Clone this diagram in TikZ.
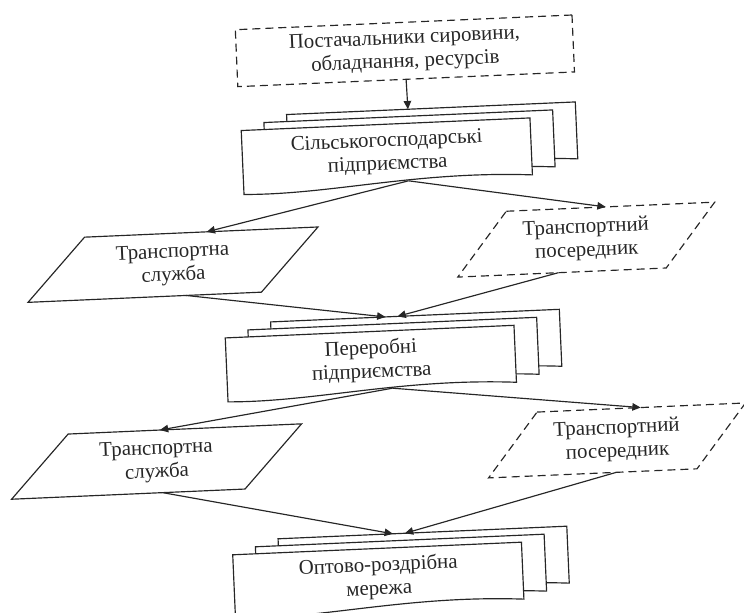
\documentclass[tikz,border=0pt]{standalone}
\usepackage{fontspec}
\setmainfont{Liberation Serif}
\usetikzlibrary{calc,arrows.meta}

\tikzset{
  pages/.pic={
    % three sheets, the back one first
    \foreach \k in {2,1,0}
      \filldraw[sheet, shift={(23*\k,7*\k)}]
        (0,0) -- (289,0) -- (289,-57)
        .. controls (173,-48) and (87,-68) .. (0,-64) -- cycle;
    \coordinate (-in) at (167.5,14);
    \coordinate (-inl) at (161,14);
    \coordinate (-inr) at (173,14);
    \coordinate (-out) at (165,-57.5);
  }
}
% slanted frame round a node, #3 = half the slant as a part of the edge
\newcommand{\slantframe}[3][]{%
  \pgfmathsetmacro{\slantin}{#3}%
  \pgfmathsetmacro{\slantout}{1+#3}%
  \draw[#1] ($(#2.north west)!\slantin!(#2.north east)$)
    -- ($(#2.north west)!\slantout!(#2.north east)$)
    -- ($(#2.south east)!\slantin!(#2.south west)$)
    -- ($(#2.south east)!\slantout!(#2.south west)$) -- cycle;}

\begin{document}
\begin{tikzpicture}[
    %We set the units and define some styles
    x=0.6pt, y=0.6pt,
    every node/.style={color=black!85, font=\fontsize{12.5}{14}\selectfont,
        align=center, inner sep=0pt},
    box line/.style={black!85, line width=0.7pt},
    dashed line/.style={box line, dash pattern=on 4.8pt off 3pt},
    link/.style={box line, -{Triangle[length=5pt,width=4.5pt]}},
    sheet/.style={box line, fill=white},
    supplybox/.style={draw, dashed line, minimum width=202.2pt, minimum height=34.2pt},
    doctext/.style={anchor=north west, minimum width=173.4pt, minimum height=34.8pt},
    service/.style={minimum width=139.8pt, minimum height=37.2pt},
    agent/.style={minimum width=124.8pt, minimum height=37.8pt}
]
\useasboundingbox (0,0) rectangle (744,613);
\begin{scope}[rotate around={2.5:(372,307)}, transform shape]
    % suppliers
    \node[supplybox] (supply) at (416,560.5) {Постачальники сировини,\\обладнання, ресурсів};

    % the stacks of sheets
    \pic (farms) at (249,488) {pages};
    \node[doctext] (farms) at (249,488) {Сільськогосподарські\\підприємства};
    \pic (proc) at (224,281.5) {pages};
    \node[doctext] (proc) at (224,281.5) {Переробні\\підприємства};
    \pic (trade) at (222,64.5) {pages};
    \node[doctext] (trade) at (222,64.5) {Оптово-роздрібна\\мережа};

    % transport
    \node[service] (ts1) at (175,357) {Транспортна\\служба};
    \node[agent] (tm1) at (589,364) {Транспортний\\посередник};
    \node[service] (ts2) at (150,161) {Транспортна\\служба};
    \node[agent] (tm2) at (611,162) {Транспортний\\посередник};
    \slantframe[box line]{ts1}{0.127}
    \slantframe[dashed line]{tm1}{0.123}
    \slantframe[box line]{ts2}{0.127}
    \slantframe[dashed line]{tm2}{0.123}

    % connectors
    \draw[link] (supply.south) -- (farms-in);
    \draw[link] (farms-out) -- ($(ts1.north west)!0.65!(ts1.north east)$);
    \draw[link] (farms-out) -- ($(tm1.north west)!0.6!(tm1.north east)$);
    \draw[link] ($(ts1.south west)!0.55!(ts1.south east)$) -- (proc-inl);
    \draw[link] ($(tm1.south west)!0.36!(tm1.south east)$) -- (proc-inr);
    \draw[link] (proc-out) -- ($(ts2.north west)!0.52!(ts2.north east)$);
    \draw[link] (proc-out) -- ($(tm2.north west)!0.62!(tm2.north east)$);
    \draw[link] ($(ts2.south west)!0.52!(ts2.south east)$) -- (trade-inl);
    \draw[link] ($(tm2.south west)!0.49!(tm2.south east)$) -- (trade-inr);
\end{scope}
\end{tikzpicture}
\end{document}
